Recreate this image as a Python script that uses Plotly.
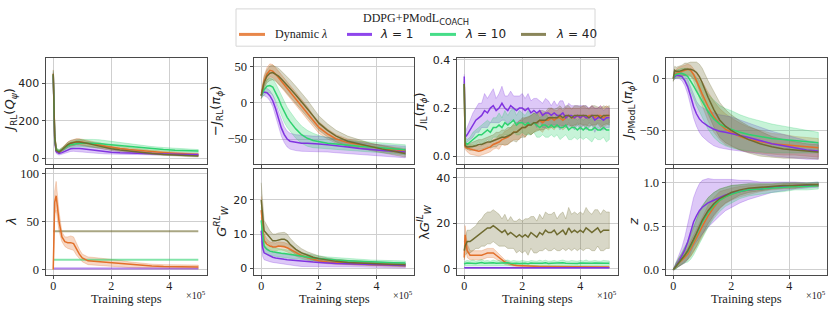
import plotly.graph_objects as go

W, H = 831, 312
SERIF = "Liberation Serif, Times New Roman, serif"
SANS = "DejaVu Sans, sans-serif"

C_OR = "#E2702A"
C_PU = "#8033E0"
C_GR = "#2FD26F"
C_OL = "#6F6B30"

SERIES_NAMES = ["Dynamic <i>λ</i>", "<i>λ</i> = 1", "<i>λ</i> = 10", "<i>λ</i> = 40"]
LEGEND_COLORS = ["#E8874A", "#8E46EC", "#46DD88", "#8A865A"]

# x grids (units of 1e5 training steps)
X = [0, 0.05, 0.1, 0.2, 0.3, 0.4, 0.5, 0.6, 0.7, 0.8, 0.9, 1.0,
     1.2, 1.4, 1.6, 1.8, 2.0,
     2.3, 2.6, 3.0,
     3.4, 3.8, 4.2, 4.6, 5.0]
XN = [0, 0.03, 0.1, 0.2, 0.3, 0.4, 0.5, 0.6, 0.7, 0.8, 0.9, 1.0,
      1.1, 1.2, 1.3, 1.4, 1.5, 1.6, 1.7, 1.8, 1.9, 2.0,
      2.1, 2.2, 2.3, 2.4, 2.5, 2.6, 2.7, 2.8, 2.9, 3.0,
      3.1, 3.2, 3.3, 3.4, 3.5, 3.6, 3.7, 3.8, 3.9, 4.0,
      4.1, 4.2, 4.3, 4.4, 4.5, 4.6, 4.7, 4.8, 4.9, 5.0]
XC = [0, 5.0]
XTICKS = [0, 2, 4]
XTICKTEXT = ["0", "2", "4"]

# ---- Panel 1: J_RL(Q_psi)
Q_OR = [450, 120, 45, 35, 45, 60, 72, 80, 85, 88, 88, 86, 82, 76, 70, 64, 58, 52, 46, 40, 35, 30, 26, 23, 20]
Q_OR_SD = [20, 30, 10, 8, 10, 12, 14, 15, 15, 16, 16, 15, 14, 13, 12, 11, 10, 10, 9, 8, 8, 7, 7, 6, 6]
Q_PU = [440, 100, 35, 25, 30, 38, 45, 50, 52, 53, 52, 50, 46, 42, 38, 35, 32, 29, 27, 25, 23, 22, 21, 20, 19]
Q_PU_SD = [20, 30, 10, 8, 10, 12, 13, 14, 15, 16, 16, 16, 15, 14, 13, 12, 11, 10, 9, 8, 8, 7, 7, 6, 6]
Q_GR = [445, 110, 45, 38, 45, 56, 66, 72, 76, 79, 80, 81, 81, 80, 78, 75, 72, 67, 62, 56, 51, 47, 43, 40, 38]
Q_GR_SD = [20, 30, 10, 8, 10, 12, 14, 15, 16, 17, 18, 19, 20, 20, 20, 19, 18, 16, 14, 12, 11, 10, 9, 8, 8]
Q_OL = [450, 115, 42, 33, 45, 60, 72, 80, 85, 87, 86, 84, 78, 71, 64, 57, 51, 44, 38, 31, 25, 20, 16, 14, 12]
Q_OL_SD = [20, 30, 10, 8, 10, 12, 14, 15, 15, 15, 15, 14, 13, 12, 11, 10, 10, 9, 8, 7, 6, 6, 5, 5, 5]

# ---- Panel 2: -J_RL(pi_phi)
P_OR = [10, 20, 30, 40, 45, 44, 40, 35, 30, 25, 20, 15, 6, -4, -14, -25, -34, -43, -50, -55, -58, -61, -63, -65, -67]
P_OR_SD = [4, 6, 8, 9, 9, 9, 9, 9, 9, 9, 9, 9, 9, 9, 9, 8, 8, 7, 6, 5, 5, 4, 4, 4, 4]
P_PU = [10, 14, 15, 14, 10, 3, -8, -22, -35, -44, -50, -53, -55, -56, -56, -57, -57, -58, -59, -61, -63, -65, -66, -67, -68]
P_PU_SD = [4, 4, 5, 6, 7, 8, 9, 10, 11, 11, 11, 11, 11, 11, 11, 11, 11, 10, 10, 9, 8, 8, 8, 8, 8]
P_GR = [10, 14, 18, 23, 24, 22, 15, 6, -4, -13, -20, -26, -36, -44, -49, -52, -54, -56, -57, -59, -60, -61, -62, -63, -65]
P_GR_SD = [4, 5, 7, 9, 10, 11, 12, 13, 14, 14, 14, 14, 13, 12, 11, 10, 9, 8, 7, 7, 7, 7, 7, 7, 7]
P_OL = [10, 18, 28, 37, 41, 42, 40, 37, 33, 29, 25, 20, 11, 2, -8, -18, -28, -38, -46, -53, -57, -61, -64, -67, -70]
P_OL_SD = [4, 6, 8, 9, 10, 10, 10, 11, 11, 11, 12, 12, 12, 12, 12, 11, 10, 9, 8, 7, 6, 5, 5, 5, 5]

# ---- Panel 3: J_IL(pi_phi)  (on XN)
IL_PU = [0.33, 0.08, 0.09, 0.11, 0.13, 0.15, 0.16, 0.17, 0.19, 0.18, 0.20, 0.21,
         0.19, 0.20, 0.22, 0.20, 0.19, 0.21, 0.20, 0.19, 0.20, 0.20,
         0.19, 0.20, 0.18, 0.19, 0.18, 0.19, 0.17, 0.18, 0.18, 0.17,
         0.18, 0.17, 0.17, 0.18, 0.16, 0.17, 0.17, 0.16, 0.17, 0.16,
         0.17, 0.16, 0.16, 0.17, 0.15, 0.16, 0.16, 0.15, 0.16, 0.16]
IL_PU_SD = [0.01, 0.02, 0.03, 0.04, 0.05, 0.05, 0.06, 0.05, 0.07, 0.06, 0.06, 0.07,
            0.05, 0.06, 0.07, 0.05, 0.06, 0.06, 0.05, 0.06, 0.05, 0.06,
            0.05, 0.06, 0.05, 0.05, 0.06, 0.04, 0.05, 0.06, 0.05, 0.04,
            0.05, 0.04, 0.06, 0.05, 0.04, 0.05, 0.04, 0.05, 0.04, 0.05,
            0.04, 0.05, 0.04, 0.04, 0.05, 0.04, 0.05, 0.04, 0.04, 0.04]
IL_GR = [0.30, 0.06, 0.05, 0.06, 0.07, 0.08, 0.09, 0.09, 0.10, 0.11, 0.10, 0.12,
         0.12, 0.13, 0.12, 0.14, 0.13, 0.14, 0.15, 0.13, 0.14, 0.14,
         0.13, 0.14, 0.13, 0.14, 0.13, 0.12, 0.13, 0.13, 0.12, 0.13,
         0.12, 0.13, 0.12, 0.12, 0.13, 0.11, 0.12, 0.12, 0.11, 0.12,
         0.11, 0.12, 0.11, 0.11, 0.12, 0.11, 0.11, 0.12, 0.11, 0.11]
IL_GR_SD = [0.01, 0.02, 0.02, 0.02, 0.03, 0.03, 0.03, 0.04, 0.04, 0.04, 0.04, 0.04,
            0.04, 0.05, 0.04, 0.05, 0.04, 0.05, 0.05, 0.04, 0.05, 0.04,
            0.04, 0.05, 0.04, 0.04, 0.05, 0.04, 0.04, 0.05, 0.04, 0.04,
            0.04, 0.04, 0.05, 0.04, 0.04, 0.04, 0.05, 0.04, 0.04, 0.04,
            0.04, 0.04, 0.04, 0.05, 0.04, 0.04, 0.04, 0.04, 0.05, 0.04]
IL_OR = [0.30, 0.04, 0.035, 0.03, 0.028, 0.025, 0.022, 0.025, 0.03, 0.035, 0.04, 0.05,
         0.055, 0.06, 0.07, 0.075, 0.08, 0.09, 0.10, 0.10, 0.11, 0.12,
         0.12, 0.13, 0.13, 0.14, 0.14, 0.15, 0.14, 0.15, 0.15, 0.16,
         0.15, 0.16, 0.16, 0.15, 0.16, 0.17, 0.16, 0.16, 0.17, 0.16,
         0.17, 0.16, 0.17, 0.17, 0.16, 0.17, 0.17, 0.16, 0.17, 0.17]
IL_OR_SD = [0.01, 0.01, 0.015, 0.02, 0.02, 0.02, 0.02, 0.02, 0.02, 0.02, 0.02, 0.02,
            0.02, 0.03, 0.02, 0.03, 0.03, 0.03, 0.03, 0.03, 0.04, 0.03,
            0.04, 0.03, 0.04, 0.04, 0.03, 0.04, 0.04, 0.03, 0.04, 0.04,
            0.04, 0.03, 0.04, 0.04, 0.04, 0.03, 0.04, 0.04, 0.03, 0.04,
            0.04, 0.04, 0.03, 0.04, 0.04, 0.03, 0.04, 0.04, 0.04, 0.03]
IL_OL = [0.30, 0.045, 0.04, 0.04, 0.042, 0.045, 0.05, 0.05, 0.055, 0.06, 0.06, 0.065,
         0.07, 0.075, 0.08, 0.08, 0.085, 0.09, 0.10, 0.10, 0.11, 0.12,
         0.12, 0.13, 0.13, 0.14, 0.14, 0.15, 0.15, 0.15, 0.16, 0.16,
         0.16, 0.16, 0.17, 0.16, 0.17, 0.17, 0.16, 0.17, 0.17, 0.17,
         0.17, 0.17, 0.16, 0.17, 0.17, 0.17, 0.16, 0.17, 0.17, 0.17]
IL_OL_SD = [0.01, 0.01, 0.01, 0.015, 0.015, 0.02, 0.02, 0.02, 0.02, 0.02, 0.025, 0.025,
            0.03, 0.025, 0.03, 0.03, 0.035, 0.03, 0.035, 0.04, 0.035, 0.04,
            0.04, 0.035, 0.04, 0.04, 0.035, 0.04, 0.04, 0.035, 0.04, 0.04,
            0.035, 0.04, 0.04, 0.035, 0.04, 0.04, 0.035, 0.04, 0.04, 0.035,
            0.04, 0.04, 0.035, 0.04, 0.04, 0.035, 0.04, 0.04, 0.035, 0.04]

# ---- Panel 4: J_PModL(pi_phi)
M_OR = [0, 3, 5, 6, 7, 8, 9, 8, 4, -2, -9, -15, -27, -37, -44, -49, -52, -56, -59, -61, -63, -64, -65, -66, -67]
M_OR_SD = [2, 3, 4, 5, 5, 5, 5, 5, 6, 8, 10, 12, 14, 15, 15, 15, 14, 13, 12, 11, 10, 10, 9, 9, 9]
M_PU = [0, 2, 3, 3, 2, -2, -8, -17, -27, -34, -39, -42, -46, -49, -51, -52, -53, -55, -57, -60, -63, -65, -67, -69, -70]
M_PU_SD = [2, 2, 3, 3, 4, 5, 7, 9, 11, 12, 13, 14, 15, 16, 16, 16, 16, 15, 14, 13, 12, 11, 10, 9, 8]
M_GR = [0, 3, 4, 5, 5, 4, 2, -2, -7, -12, -17, -22, -32, -39, -44, -47, -49, -52, -54, -56, -58, -59, -60, -61, -62]
M_GR_SD = [2, 3, 4, 4, 5, 6, 8, 10, 12, 14, 15, 16, 17, 18, 18, 18, 18, 17, 16, 15, 14, 13, 12, 11, 10]
M_OL = [0, 8, 7, 7, 8, 9, 9, 9, 8, 6, 2, -4, -18, -30, -40, -46, -50, -55, -59, -63, -66, -68, -69, -70, -71]
M_OL_SD = [3, 4, 4, 5, 5, 6, 6, 7, 8, 10, 12, 14, 16, 17, 17, 16, 15, 14, 13, 12, 10, 9, 8, 7, 7]

# ---- Panel 5: lambda
L_OR = [0, 70, 77, 50, 34, 29, 28, 28, 27, 21, 16, 12, 9, 8.5, 8, 7.5, 7, 6, 5, 4, 3.5, 3, 2.8, 2.6, 2.5]
L_OR_SD = [0, 12, 15, 10, 5, 5, 6, 7, 7, 6, 5, 4, 4, 4, 4, 4, 4, 3.5, 3, 2.5, 2, 2, 2, 2, 2]
L_PU = [1, 1]
L_GR = [10, 10]
L_OL = [40, 40]

# ---- Panel 6: G_W^RL
G_OR = [17, 11, 8, 7, 6.5, 6.3, 6.2, 6.5, 6.5, 6.3, 6, 5.5, 4.5, 3.7, 3.1, 2.6, 2.2, 1.8, 1.6, 1.4, 1.2, 1.1, 1.0, 0.9, 0.8]
G_OR_SD = [4, 3, 2, 1.5, 1.2, 1.2, 1.2, 1.2, 1.2, 1.2, 1.2, 1.1, 1, 0.9, 0.8, 0.7, 0.6, 0.5, 0.5, 0.5, 0.4, 0.4, 0.4, 0.4, 0.4]
G_PU = [11, 6, 4.5, 4, 3.5, 3.2, 3.0, 2.8, 2.7, 2.6, 2.5, 2.4, 2.2, 2.0, 1.9, 1.8, 1.7, 1.5, 1.4, 1.3, 1.2, 1.1, 1.0, 0.9, 0.8]
G_PU_SD = [3, 2.5, 2, 1.8, 1.6, 1.5, 1.5, 1.5, 1.5, 1.5, 1.5, 1.5, 1.5, 1.5, 1.4, 1.3, 1.2, 1.1, 1.0, 0.9, 0.9, 0.8, 0.8, 0.7, 0.7]
G_GR = [14, 9, 6.5, 5.5, 5, 4.8, 4.6, 4.5, 4.4, 4.3, 4.2, 4.1, 3.8, 3.5, 3.3, 3.0, 2.8, 2.6, 2.4, 2.2, 2.0, 1.8, 1.7, 1.6, 1.5]
G_GR_SD = [4, 3, 2, 1.5, 1.3, 1.2, 1.2, 1.2, 1.2, 1.2, 1.2, 1.2, 1.1, 1.0, 0.9, 0.8, 0.8, 0.7, 0.7, 0.6, 0.6, 0.6, 0.6, 0.6, 0.6]
G_OL = [20, 14, 11, 10, 9, 8, 8, 8.3, 8.5, 8.5, 8, 7, 5.5, 4.5, 3.8, 3.2, 2.8, 2.3, 2, 1.7, 1.5, 1.3, 1.2, 1.1, 1.0]
G_OL_SD = [5, 4, 3, 2.5, 2, 2, 2, 2, 2, 2, 2, 1.8, 1.5, 1.2, 1, 0.9, 0.8, 0.7, 0.6, 0.6, 0.5, 0.5, 0.5, 0.5, 0.5]

# ---- Panel 7: lambda * G_W^IL  (on XN)
LG_OL = [8, 10, 12, 12, 13, 14, 15, 16, 17, 18, 18, 19,
         18, 17, 16, 17, 15, 16, 15, 14, 15, 14,
         15, 14, 16, 15, 14, 16, 15, 17, 16, 16,
         17, 15, 16, 17, 15, 18, 16, 17, 16, 17,
         16, 18, 17, 16, 17, 18, 16, 17, 17, 17]
LG_OL_SD = [4, 4, 5, 5, 5, 5, 6, 6, 7, 7, 7, 7,
            7, 7, 6, 7, 6, 7, 6, 7, 7, 7,
            7, 8, 7, 8, 7, 8, 7, 8, 8, 8,
            8, 7, 8, 8, 7, 9, 8, 8, 8, 8,
            8, 9, 8, 8, 9, 8, 8, 9, 8, 8]
LG_OR = [5, 15, 8, 6, 6, 6, 6, 6, 6.5, 7, 7, 7,
         6, 5, 4, 3, 2.5, 2, 1.7, 1.5, 1.4, 1.3,
         1.2, 1.2, 1.1, 1.1, 1.0, 1.0, 1.0, 1.0, 0.9, 0.9,
         0.9, 0.9, 0.9, 0.9, 0.9, 0.9, 0.9, 0.8, 0.8, 0.8,
         0.8, 0.8, 0.8, 0.8, 0.8, 0.8, 0.8, 0.8, 0.8, 0.8]
LG_OR_SD = [1, 4, 3, 2, 2, 2, 2, 2, 2, 2, 2, 2,
            1.8, 1.5, 1.2, 1.0, 0.8, 0.6, 0.5, 0.4, 0.4, 0.3,
            0.3, 0.3, 0.3, 0.3, 0.3, 0.3, 0.3, 0.3, 0.3, 0.3,
            0.3, 0.3, 0.3, 0.3, 0.3, 0.3, 0.3, 0.3, 0.3, 0.3,
            0.3, 0.3, 0.3, 0.3, 0.3, 0.3, 0.3, 0.3, 0.3, 0.3]
LG_GR = [2.0, 2.4, 2.6, 2.5, 2.7, 2.4, 2.6, 2.8, 2.5, 2.6, 2.4, 2.7,
         2.5, 2.6, 2.4, 2.5, 2.7, 2.4, 2.6, 2.5, 2.4, 2.6,
         2.5, 2.3, 2.6, 2.5, 2.4, 2.6, 2.5, 2.7, 2.4, 2.5,
         2.6, 2.4, 2.5, 2.7, 2.5, 2.4, 2.6, 2.5, 2.4, 2.6,
         2.5, 2.7, 2.4, 2.5, 2.6, 2.5, 2.4, 2.6, 2.5, 2.5]
LG_GR_SD = [0.8, 1.0, 1.1, 1.0, 1.2, 1.0, 1.1, 1.3, 1.0, 1.1, 1.0, 1.2,
            1.0, 1.1, 1.0, 1.0, 1.2, 1.0, 1.1, 1.0, 1.0, 1.1,
            1.0, 0.9, 1.1, 1.0, 1.0, 1.2, 1.0, 1.1, 1.0, 1.0,
            1.1, 1.0, 1.0, 1.2, 1.0, 1.0, 1.1, 1.0, 1.0, 1.1,
            1.0, 1.2, 1.0, 1.0, 1.1, 1.0, 1.0, 1.1, 1.0, 1.0]
LG_PU = [0.5, 0.5]
LG_PU_SD = [0.2, 0.2]

# ---- Panel 8: z
Z_OR = [0, 0.02, 0.05, 0.08, 0.11, 0.14, 0.18, 0.24, 0.3, 0.36, 0.43, 0.5, 0.62, 0.72, 0.8, 0.84, 0.87, 0.9, 0.92, 0.94, 0.95, 0.96, 0.97, 0.97, 0.98]
Z_OR_SD = [0, .02, .03, .04, .05, .06, .07, .09, .1, .11, .12, .12, .12, .11, .1, .08, .07, .06, .05, .04, .03, .03, .03, .02, .02]
Z_PU = [0, 0.02, 0.05, 0.1, 0.16, 0.23, 0.32, 0.44, 0.55, 0.62, 0.68, 0.72, 0.77, 0.8, 0.83, 0.86, 0.88, 0.9, 0.92, 0.93, 0.95, 0.96, 0.97, 0.97, 0.98]
Z_PU_SD = [0, .02, .03, .06, .1, .15, .2, .25, .28, .3, .31, .31, .28, .24, .21, .18, .16, .13, .11, .08, .06, .05, .04, .03, .03]
Z_GR = [0, 0.02, 0.05, 0.09, 0.13, 0.17, 0.21, 0.27, 0.34, 0.41, 0.48, 0.55, 0.66, 0.74, 0.8, 0.84, 0.87, 0.9, 0.92, 0.93, 0.94, 0.95, 0.96, 0.96, 0.97]
Z_GR_SD = [0, .02, .04, .05, .07, .09, .12, .15, .17, .18, .19, .19, .17, .15, .13, .11, .1, .08, .07, .06, .05, .05, .04, .04, .04]
Z_OL = [0, 0.02, 0.05, 0.09, 0.13, 0.17, 0.22, 0.28, 0.35, 0.42, 0.5, 0.57, 0.68, 0.76, 0.82, 0.86, 0.89, 0.92, 0.94, 0.95, 0.96, 0.97, 0.97, 0.98, 0.98]
Z_OL_SD = [0, .02, .03, .05, .06, .08, .1, .12, .14, .15, .16, .16, .15, .13, .11, .09, .08, .06, .05, .04, .03, .03, .03, .02, .02]


def rgba(hexc, a):
    h = hexc.lstrip("#")
    r, g, b = int(h[0:2], 16), int(h[2:4], 16), int(h[4:6], 16)
    return f"rgba({r},{g},{b},{a})"


PANELS = [
    dict(series=[(X, Q_OR, Q_OR_SD, C_OR), (X, Q_PU, Q_PU_SD, C_PU), (X, Q_GR, Q_GR_SD, C_GR), (X, Q_OL, Q_OL_SD, C_OL)],
         yr=[-30, 534], tv=[0, 200, 400], tt=["0", "200", "400"], tf=SANS, tfs=11,
         title="<i>J</i><sub>RL</sub>(<i>Q</i><sub><i>ψ</i></sub>)", tx=11),
    dict(series=[(X, P_OR, P_OR_SD, C_OR), (X, P_PU, P_PU_SD, C_PU), (X, P_GR, P_GR_SD, C_GR), (X, P_OL, P_OL_SD, C_OL)],
         yr=[-84.4, 62.2], tv=[-50, 0, 50], tt=["−50", "0", "50"], tf=SERIF, tfs=12.5,
         title="−<i>J</i><sub>RL</sub>(<i>π</i><sub><i>ϕ</i></sub>)", tx=217),
    dict(series=[(XN, IL_OR, IL_OR_SD, C_OR), (XN, IL_PU, IL_PU_SD, C_PU), (XN, IL_GR, IL_GR_SD, C_GR), (XN, IL_OL, IL_OL_SD, C_OL)],
         yr=[-0.03, 0.407], tv=[0, 0.2, 0.4], tt=["0.0", "0.2", "0.4"], tf=SANS, tfs=11,
         title="<i>J</i><sub>IL</sub>(<i>π</i><sub><i>ϕ</i></sub>)", tx=421),
    dict(series=[(X, M_OR, M_OR_SD, C_OR), (X, M_PU, M_PU_SD, C_PU), (X, M_GR, M_GR_SD, C_GR), (X, M_OL, M_OL_SD, C_OL)],
         yr=[-82.5, 20], tv=[-50, 0], tt=["−50", "0"], tf=SERIF, tfs=12.5,
         title="<i>J</i><sub>PModL</sub>(<i>π</i><sub><i>ϕ</i></sub>)", tx=629),
    dict(series=[(XC, L_OL, None, C_OL), (XC, L_GR, None, C_GR), (XC, L_PU, None, C_PU), (X, L_OR, L_OR_SD, C_OR)],
         yr=[-5.5, 105.2], tv=[0, 50, 100], tt=["0", "50", "100"], tf=SERIF, tfs=12.5,
         title="<i>λ</i>", tx=12),
    dict(series=[(X, G_OR, G_OR_SD, C_OR), (X, G_PU, G_PU_SD, C_PU), (X, G_GR, G_GR_SD, C_GR), (X, G_OL, G_OL_SD, C_OL)],
         yr=[-1.9, 29.1], tv=[0, 10, 20], tt=["0", "10", "20"], tf=SANS, tfs=11,
         title="<i>G</i><sup><i>RL</i></sup><sub><i>W</i></sub>", tx=221),
    dict(series=[(XN, LG_OR, LG_OR_SD, C_OR), (XC, LG_PU, LG_PU_SD, C_PU), (XN, LG_GR, LG_GR_SD, C_GR), (XN, LG_OL, LG_OL_SD, C_OL)],
         yr=[-2.55, 44], tv=[0, 20, 40], tt=["0", "20", "40"], tf=SANS, tfs=11,
         title="λ<i>G</i><sup><i>IL</i></sup><sub><i>W</i></sub>", tx=424),
    dict(series=[(X, Z_OR, Z_OR_SD, C_OR), (X, Z_PU, Z_PU_SD, C_PU), (X, Z_GR, Z_GR_SD, C_GR), (X, Z_OL, Z_OL_SD, C_OL)],
         yr=[-0.057, 1.163], tv=[0, 0.5, 1.0], tt=["0.0", "0.5", "1.0"], tf=SERIF, tfs=12.5,
         title="<i>z</i>", tx=634),
]

COLS_PX = [(46, 207), (254, 414), (457, 618), (666, 827)]
ROWS_PX = [(55, 163), (168, 276)]

GRID = "#cfcfcf"
SPINE = "#4a4a4a"

fig = go.Figure()
layout = dict(width=W, height=H, margin=dict(l=0, r=0, t=0, b=0),
              paper_bgcolor="white", plot_bgcolor="white", showlegend=False)
annotations = []
shapes = []

for i, p in enumerate(PANELS):
    idx = i + 1
    row, col = divmod(i, 4)
    xa = "x" if idx == 1 else f"x{idx}"
    ya = "y" if idx == 1 else f"y{idx}"
    xk = "xaxis" if idx == 1 else f"xaxis{idx}"
    yk = "yaxis" if idx == 1 else f"yaxis{idx}"
    c0, c1 = COLS_PX[col]
    r0, r1 = ROWS_PX[row]
    layout[xk] = dict(domain=[c0 / W, c1 / W], range=[-0.25, 5.3], anchor=ya,
                      tickvals=XTICKS, ticktext=XTICKTEXT, showticklabels=(row == 1),
                      tickfont=dict(family=SERIF, size=12, color="#222"),
                      ticklabelstandoff=-3,
                      showgrid=True, gridcolor=GRID, gridwidth=1, zeroline=False,
                      showline=True, mirror=True, linecolor=SPINE, linewidth=1,
                      ticks="outside", ticklen=3, tickcolor=SPINE, tickwidth=0.8)
    layout[yk] = dict(domain=[1 - r1 / H, 1 - r0 / H], range=p["yr"], anchor=xa,
                      tickvals=p["tv"], ticktext=p["tt"],
                      tickfont=dict(family=p["tf"], size=p["tfs"], color="#222"),
                      showgrid=True, gridcolor=GRID, gridwidth=1, zeroline=False,
                      showline=True, mirror=True, linecolor=SPINE, linewidth=1,
                      ticks="outside", ticklen=3.5, tickcolor=SPINE, tickwidth=0.8)
    for xs, mean, sd, color in p["series"]:
        if sd is None:
            continue
        lo = [m - s for m, s in zip(mean, sd)]
        hi = [m + s for m, s in zip(mean, sd)]
        xs_l = list(xs)
        fig.add_trace(go.Scatter(x=xs_l + xs_l[::-1], y=hi + lo[::-1], fill="toself",
                                 fillcolor=rgba(color, 0.27), mode="lines",
                                 line=dict(color=rgba(color, 0.45), width=0.6),
                                 hoverinfo="skip", showlegend=False, xaxis=xa, yaxis=ya))
    for xs, mean, sd, color in p["series"]:
        if sd is None:
            fig.add_trace(go.Scatter(x=list(xs), y=mean, mode="lines",
                                     line=dict(color=rgba(color, 0.6), width=2),
                                     showlegend=False, xaxis=xa, yaxis=ya))
        else:
            fig.add_trace(go.Scatter(x=list(xs), y=mean, mode="lines",
                                     line=dict(color=color, width=1.5),
                                     showlegend=False, xaxis=xa, yaxis=ya))
    annotations.append(dict(text=p["title"], x=p["tx"] / W, y=1 - ((r0 + r1) / 2) / H,
                            xref="paper", yref="paper", xanchor="center", yanchor="middle",
                            textangle=-90, showarrow=False,
                            font=dict(family=SANS, size=13, color="#222")))
    if row == 1:
        annotations.append(dict(text="Training steps", x=((c0 + c1) / 2) / W, y=1 - 300.5 / H,
                                xref="paper", yref="paper", xanchor="center", yanchor="middle",
                                showarrow=False, font=dict(family=SERIF, size=12.5, color="#222")))
        annotations.append(dict(text="×10<sup>5</sup>", x=(c1 + 1) / W, y=1 - 297 / H,
                                xref="paper", yref="paper", xanchor="right", yanchor="middle",
                                showarrow=False, font=dict(family=SERIF, size=10, color="#222")))

# legend (manual)
shapes.append(dict(type="rect", xref="paper", yref="paper",
                   x0=236 / W, x1=595 / W, y0=1 - 43 / H, y1=1 - 5 / H,
                   line=dict(color="#d6d6d6", width=1), fillcolor="white", layer="above"))
annotations.append(dict(text="DDPG+PModL<sub><span style='font-family:DejaVu Sans'>COACH</span></sub>",
                        x=415.5 / W, y=1 - 15 / H, xref="paper", yref="paper",
                        xanchor="center", yanchor="middle", showarrow=False,
                        font=dict(family=SERIF, size=12, color="#222")))
LEG_LINE_X = [(239, 265), (347, 372), (430, 456), (521, 546)]
LEG_TEXT_X = [273, 378, 463, 554]
for name, lc, (lx0, lx1), tx in zip(SERIES_NAMES, LEGEND_COLORS, LEG_LINE_X, LEG_TEXT_X):
    shapes.append(dict(type="line", xref="paper", yref="paper", x0=lx0 / W, x1=lx1 / W,
                       y0=1 - 31 / H, y1=1 - 31 / H, line=dict(color=lc, width=3), layer="above"))
    fam = SERIF if name.startswith("Dynamic") else SANS
    annotations.append(dict(text=name, x=tx / W, y=1 - 31 / H, xref="paper", yref="paper",
                            xanchor="left", yanchor="middle", showarrow=False,
                            font=dict(family=fam, size=12, color="#222")))

layout["annotations"] = annotations
layout["shapes"] = shapes
fig.update_layout(**layout)
fig.write_html("out.html", config={"displayModeBar": False},
               post_script="document.body.style.margin='0';document.body.style.padding='0';"
                           "document.documentElement.style.overflow='hidden';")
